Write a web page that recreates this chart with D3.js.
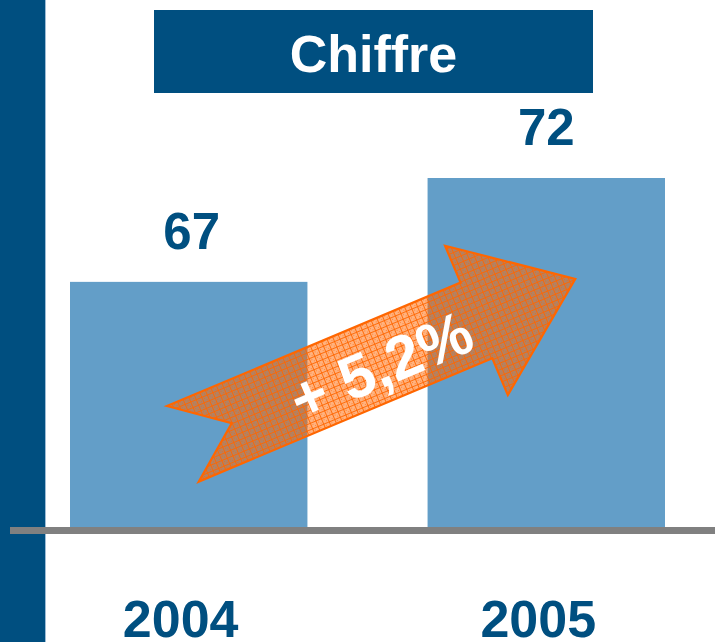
<!DOCTYPE html>
<html>
<head>
<meta charset="utf-8">
<script src="https://cdn.jsdelivr.net/npm/d3@7"></script>
<style>
  html, body { margin: 0; padding: 0; background: #fff; }
  svg { display: block; }
</style>
</head>
<body>
<svg id="chart" width="715" height="642"></svg>
<script>
// ---- data ----
const title = "Chiffre";
const years = ["2004", "2005"];
const values = [67, 72];
const valueLabels = ["67", "72"];
const growthLabel = "+ 5,2%";
const axisFloor = 55.2; // chart does not start at zero

// ---- layout ----
const W = 715, H = 642;
const darkBlue = "#004f80";
const barBlue = "#639ec8";
const orange = "#ff6600";
const font = "'Liberation Sans', Arial, sans-serif";

const svg = d3.select("#chart");

const x = d3.scaleBand().domain(years).range([70, 665]).paddingInner(0.336).paddingOuter(0);
const y = d3.scaleLinear().domain([axisFloor, d3.max(values)]).range([527, 178]);

// left vertical band
svg.append("rect").attr("x", 0).attr("y", 0).attr("width", 45).attr("height", H).attr("fill", darkBlue);
svg.append("rect").attr("x", 45).attr("y", 0).attr("width", 1).attr("height", H).attr("fill", "#9dbcd6");

// title box
svg.append("rect").attr("x", 154).attr("y", 10).attr("width", 439).attr("height", 83).attr("fill", darkBlue);
svg.append("text").attr("x", 373.5).attr("y", 72).attr("text-anchor", "middle")
  .attr("font-family", font).attr("font-weight", "bold").attr("font-size", 52)
  .attr("fill", "#fff").text(title);

// bars
const data = years.map((yr, i) => ({ year: yr, value: values[i], label: valueLabels[i] }));
svg.selectAll("rect.bar").data(data).enter().append("rect").attr("class", "bar")
  .attr("x", d => x(d.year)).attr("width", x.bandwidth())
  .attr("y", d => y(d.value)).attr("height", d => y(axisFloor) - y(d.value))
  .attr("fill", barBlue);

// value labels
svg.selectAll("text.val").data(data).enter().append("text").attr("class", "val")
  .attr("x", d => x(d.year) + x.bandwidth() / 2 + (d.year === "2004" ? 3 : 0))
  .attr("y", d => y(d.value) - 33)
  .attr("text-anchor", "middle").attr("font-family", font).attr("font-weight", "bold")
  .attr("font-size", 51).attr("fill", darkBlue).text(d => d.label);

// baseline
svg.append("rect").attr("x", 10).attr("y", y(axisFloor)).attr("width", W - 10).attr("height", 7).attr("fill", "#808080");

// year labels
svg.selectAll("text.year").data(data).enter().append("text").attr("class", "year")
  .attr("x", d => x(d.year) + x.bandwidth() / 2 - 8)
  .attr("y", 637)
  .attr("text-anchor", "middle").attr("font-family", font).attr("font-weight", "bold")
  .attr("font-size", 52).attr("fill", darkBlue).text(d => d.year);

// ---- growth arrow (annotation) ----
const defs = svg.append("defs");
const pat = defs.append("pattern").attr("id", "hatch").attr("patternUnits", "userSpaceOnUse")
  .attr("width", 6).attr("height", 6);
pat.append("rect").attr("width", 6).attr("height", 6).attr("fill", orange).attr("fill-opacity", 0.5);
pat.append("rect").attr("width", 1).attr("height", 1).attr("x", 2).attr("y", 2).attr("fill", orange).attr("fill-opacity", 0.6);
pat.append("rect").attr("width", 1).attr("height", 1).attr("x", 4).attr("y", 4).attr("fill", orange).attr("fill-opacity", 0.6);
pat.append("path").attr("d", "M0,0.5H6M0.5,0V6").attr("stroke", orange).attr("stroke-width", 1).attr("stroke-opacity", 0.9);

const tail = 53, bodyLen = 265.5, halfW = 41, headHalfW = 81, tip = 372.7;
const arrowPts = [
  [-tail, -halfW], [0, 0], [-tail, halfW], [bodyLen, halfW], [bodyLen, headHalfW],
  [tip, 0], [bodyLen, -headHalfW], [bodyLen, -halfW]
];
const arrow = svg.append("g").attr("transform", "translate(231.7,423.3) rotate(-22.8)");
arrow.append("path").attr("d", d3.line()(arrowPts) + "Z")
  .attr("fill", "url(#hatch)").attr("stroke", orange).attr("stroke-width", 2.2).attr("stroke-linejoin", "miter");
arrow.append("text").attr("x", 160).attr("y", 26).attr("text-anchor", "middle")
  .attr("font-family", font).attr("font-weight", "bold").attr("font-size", 61)
  .attr("fill", "#fff").text(growthLabel);
</script>
</body>
</html>
